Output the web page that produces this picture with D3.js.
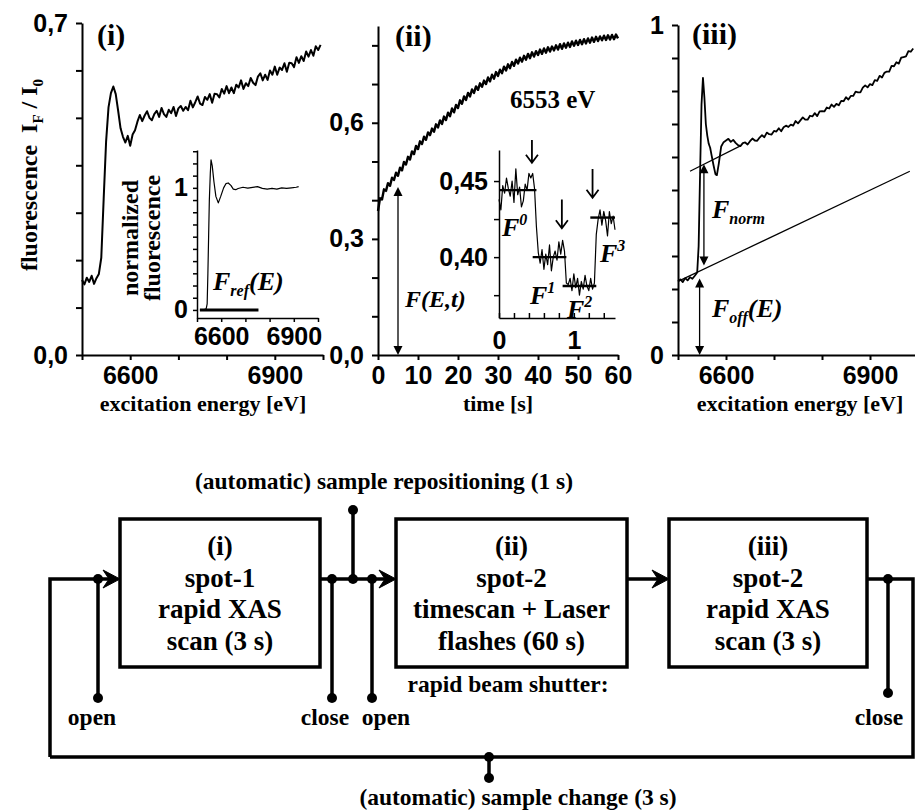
<!DOCTYPE html>
<html>
<head>
<meta charset="utf-8">
<script src="https://cdn.jsdelivr.net/npm/d3@7"></script>
<style>
    body { margin: 0; background: #fff; }
    svg { display: block; }
    .tick text { font-family: "Liberation Sans", Arial, sans-serif; font-weight: bold; font-size: 25px; fill: #000; }
    .serif { font-family: "Liberation Serif", "Times New Roman", serif; font-weight: bold; fill: #000; }
    .ital { font-style: italic; }
</style>
</head>
<body>
<script>
// ---- panel (i): rapid XAS scan on spot-1 ----
var energyI = [6500,6505,6510,6515,6520,6525,6530,6535,6540,6545,6550,6555,6560,6565,6570,6575,6580,6585,6590,6595,
    6600,6605,6610,6615,6620,6625,6630,6635,6640,6645,6650,6655,6660,6665,6670,6675,6680,6685,6690,6695,
    6700,6705,6710,6715,6720,6725,6730,6735,6740,6745,6750,6755,6760,6765,6770,6775,6780,6785,6790,6795,
    6800,6805,6810,6815,6820,6825,6830,6835,6840,6845,6850,6855,6860,6865,6870,6875,6880,6885,6890,6895,
    6900,6905,6910,6915,6920,6925,6930,6935,6940,6945,6950,6955,6960,6965,6970,6975,6980,6985,6990,6995];
var fluorI = [0.158,0.149,0.163,0.154,0.167,0.150,0.162,0.171,0.205,0.330,0.450,0.522,0.552,0.566,0.550,0.515,0.478,0.460,0.448,0.462,
    0.441,0.465,0.474,0.492,0.506,0.493,0.505,0.514,0.500,0.495,0.508,0.515,0.502,0.521,0.508,0.502,0.517,0.510,0.523,0.504,
    0.520,0.525,0.515,0.523,0.516,0.536,0.522,0.533,0.545,0.530,0.527,0.544,0.538,0.550,0.532,0.551,0.550,0.543,0.561,0.551,
    0.567,0.552,0.564,0.552,0.570,0.564,0.579,0.561,0.573,0.567,0.584,0.574,0.569,0.587,0.594,0.579,0.591,0.580,0.600,0.591,
    0.608,0.591,0.606,0.601,0.615,0.597,0.616,0.615,0.607,0.628,0.616,0.630,0.620,0.640,0.629,0.643,0.631,0.651,0.643,0.654];

// inset: normalized reference spectrum
var energyRef = [6512,6525,6538,6542,6545,6548,6551,6555,6558,6563,6570,6578,6588,6598,6610,6620,6629,6640,6650,6660,
    6670,6690,6710,6730,6750,6770,6790,6810,6830,6850,6870,6890,6910,6920];
var normRef = [0.0,0.0,0.01,0.05,0.30,0.60,0.90,1.12,1.23,1.18,1.05,0.93,0.877,0.93,1.0,1.035,1.04,1.02,0.99,0.985,
    0.995,1.005,0.998,1.004,1.01,0.996,0.99,0.995,0.99,1.0,0.995,1.0,1.005,1.01];
var refBase = [6512, 6754];

// ---- panel (ii): timescan at 6553 eV ----
var timeII = [0,0.5,1,1.5,2,2.5,3,3.5,4,4.5,5,5.5,6,6.5,7,7.5,8,8.5,9,9.5,10,10.5,11,11.5,12,12.5,13,13.5,14,14.5,
    15,15.5,16,16.5,17,17.5,18,18.5,19,19.5,20,20.5,21,21.5,22,22.5,23,23.5,24,24.5,25,25.5,26,26.5,27,27.5,28,28.5,29,29.5,
    30,30.5,31,31.5,32,32.5,33,33.5,34,34.5,35,35.5,36,36.5,37,37.5,38,38.5,39,39.5,40,40.5,41,41.5,42,42.5,43,43.5,44,44.5,
    45,45.5,46,46.5,47,47.5,48,48.5,49,49.5,50,50.5,51,51.5,52,52.5,53,53.5,54,54.5,55,55.5,56,56.5,57,57.5,58,58.5,59,59.5,60];
var fluorII = [0.372,0.405,0.402,0.428,0.424,0.444,0.437,0.458,0.452,0.471,0.463,0.484,0.477,0.499,0.492,0.512,0.505,0.526,0.519,0.540,
    0.532,0.552,0.545,0.564,0.556,0.575,0.568,0.585,0.577,0.596,0.588,0.606,0.597,0.616,0.607,0.626,0.617,0.637,0.627,0.646,
    0.638,0.658,0.649,0.668,0.659,0.677,0.668,0.686,0.677,0.694,0.685,0.702,0.693,0.709,0.700,0.717,0.707,0.724,0.714,0.731,
    0.721,0.737,0.728,0.745,0.735,0.751,0.741,0.757,0.747,0.763,0.753,0.768,0.758,0.773,0.763,0.778,0.767,0.782,0.771,0.785,
    0.775,0.789,0.778,0.792,0.781,0.795,0.784,0.797,0.787,0.800,0.789,0.803,0.791,0.805,0.794,0.807,0.796,0.810,0.799,0.812,
    0.801,0.814,0.803,0.816,0.805,0.818,0.807,0.820,0.809,0.822,0.811,0.823,0.813,0.825,0.814,0.826,0.815,0.827,0.816,0.828,0.818];

// inset: laser flash steps
var timeIn = [0,0.025,0.05,0.075,0.1,0.125,0.15,0.175,0.2,0.225,0.25,0.275,0.3,0.325,0.35,0.375,0.4,0.425,0.45,0.475,
    0.5,0.525,0.55,0.575,0.6,0.625,0.65,0.675,0.7,0.725,0.75,0.775,0.8,0.825,0.85,0.875,0.9,0.925,0.95,0.975,
    1.0,1.025,1.05,1.075,1.1,1.125,1.15,1.175,1.2,1.225,1.25,1.275,1.3,1.325,1.35,1.375,1.4,1.425,1.45,1.475,1.5,1.525,1.55];
var fluorIn = [0.438,0.431,0.447,0.442,0.452,0.445,0.440,0.450,0.436,0.458,0.441,0.446,0.433,0.437,0.448,0.444,0.455,0.452,0.455,0.445,
    0.420,0.403,0.396,0.405,0.392,0.402,0.395,0.408,0.391,0.400,0.404,0.398,0.410,0.402,0.411,0.404,0.383,0.382,0.386,0.378,
    0.389,0.380,0.386,0.375,0.384,0.379,0.388,0.381,0.378,0.386,0.379,0.383,0.415,0.425,0.431,0.421,0.430,0.424,0.414,0.430,0.422,0.427,0.418];
var levelVal = [0.444, 0.400, 0.381, 0.426];
var levelFrom = [0, 0.45, 0.85, 1.22];
var levelTo = [0.5, 0.9, 1.3, 1.55];
var flashTime = [0.44, 0.84, 1.25];
var flashTop = [0.473, 0.434, 0.454];
var flashBot = [0.462, 0.419, 0.439];

// ---- panel (iii): rapid XAS scan on spot-2 ----
var energyIII = [6500,6505,6510,6515,6520,6525,6530,6535,6540,6543,6546,6549,6552,6555,6558,6561,6564,6567,6570,6574,
    6578,6581,6585,6590,6595,6600,6605,6610,6615,6620,6625,6630,6635,6640,6645,6650,6655,6660,6665,6670,
    6675,6680,6685,6690,6695,6700,6705,6710,6715,6720,6725,6730,6735,6740,6745,6750,6755,6760,6765,6770,
    6775,6780,6785,6790,6795,6800,6805,6810,6815,6820,6825,6830,6835,6840,6845,6850,6855,6860,6865,6870,
    6875,6880,6885,6890,6895,6900,6905,6910,6915,6920,6925,6930,6935,6940,6945,6950,6955,6960,6965,6970,
    6975,6980,6985,6990];
var fluorIII = [0.223,0.229,0.221,0.233,0.226,0.236,0.231,0.240,0.250,0.330,0.550,0.760,0.840,0.780,0.700,0.665,0.640,0.628,0.605,0.575,
    0.548,0.545,0.580,0.632,0.645,0.650,0.655,0.646,0.652,0.643,0.636,0.633,0.642,0.644,0.638,0.648,0.656,0.650,0.649,0.659,
    0.666,0.660,0.674,0.669,0.668,0.679,0.677,0.687,0.678,0.690,0.695,0.691,0.698,0.695,0.709,0.702,0.711,0.720,0.713,0.713,
    0.725,0.723,0.733,0.724,0.738,0.739,0.738,0.750,0.747,0.759,0.752,0.761,0.757,0.770,0.769,0.781,0.774,0.785,0.785,0.798,
    0.796,0.796,0.810,0.817,0.811,0.821,0.818,0.833,0.831,0.846,0.841,0.855,0.859,0.859,0.876,0.875,0.887,0.883,0.901,0.903,
    0.905,0.921,0.919,0.929];
var normLineE = [6525, 6629];
var normLineF = [0.557, 0.633];
var offLineE = [6500, 6983];
var offLineF = [0.223, 0.557];

// ticks
var eTicks = [6500, 6600, 6700, 6800, 6900, 7000];
var eLabels = [6600, 6900];
var yTicksI = [0, 0.1, 0.2, 0.3, 0.4, 0.5, 0.6, 0.7];
var yLabelsI = [0, 0.7];
var refTicks = [0, 0.1, 0.2, 0.3, 0.4, 0.5, 0.6, 0.7, 0.8, 0.9, 1.0, 1.1, 1.2, 1.3];
var refLabels = [0, 1];
var tTicks = [0, 10, 20, 30, 40, 50, 60];
var yTicksII = [0, 0.1, 0.2, 0.3, 0.4, 0.5, 0.6, 0.7, 0.8];
var yLabelsII = [0, 0.3, 0.6];
var inTicksX = [0, 0.2, 0.4, 0.6, 0.8, 1.0, 1.2, 1.4];
var inLabelsX = [0, 1];
var inTicksY = [0.375, 0.4, 0.425, 0.45];
var inLabelsY = [0.4, 0.45];
var yTicksIII = [0, 0.1, 0.2, 0.3, 0.4, 0.5, 0.6, 0.7, 0.8, 0.9, 1.0];
var yLabelsIII = [0, 1];

// flow chart text
var boxLines = [
    ["(i)", "spot-1", "rapid XAS", "scan (3 s)"],
    ["(ii)", "spot-2", "timescan + Laser", "flashes (60 s)"],
    ["(iii)", "spot-2", "rapid XAS", "scan (3 s)"]
];

var svg = d3.select("body").append("svg")
    .attr("width", 915)
    .attr("height", 810);

function comma(n) {
    return function (d) { return d.toFixed(n).replace(".", ","); };
}
function only(list, f) {
    return function (d) {
        return list.some(function (v) { return Math.abs(v - d) < 1e-9; }) ? f(d) : "";
    };
}
function addAxis(gen, tx, ty, sw) {
    var g = svg.append("g")
        .attr("transform", "translate(" + tx + "," + ty + ")")
        .call(gen);
    g.select(".domain").attr("stroke-width", sw);
    g.selectAll(".tick line").attr("stroke-width", sw);
    return g;
}
function curve(xs, ys, xsc, ysc, sw) {
    var line = d3.line()
        .x(function (d) { return xsc(d[0]); })
        .y(function (d) { return ysc(d[1]); });
    return svg.append("path")
        .datum(xs.map(function (x, i) { return [x, ys[i]]; }))
        .attr("d", line)
        .attr("fill", "none")
        .attr("stroke", "#000")
        .attr("stroke-width", sw)
        .attr("stroke-linejoin", "round");
}
function dblArrow(x, yTop, yBot) {
    svg.append("line")
        .attr("x1", x).attr("x2", x)
        .attr("y1", yTop + 6).attr("y2", yBot - 6)
        .attr("stroke", "#000").attr("stroke-width", 1.3);
    svg.append("path").attr("d", "M" + x + "," + yTop + "l-4.5,9h9z");
    svg.append("path").attr("d", "M" + x + "," + yBot + "l-4.5,-9h9z");
}
function label(x, y, size, anchor) {
    return svg.append("text")
        .attr("class", "serif")
        .attr("x", x).attr("y", y)
        .attr("font-size", size)
        .attr("text-anchor", anchor || "start");
}
// italic "F" with a sub- or superscript part
function fLabel(x, y, script, up, tail) {
    var t = label(x, y, 26).attr("class", "serif ital");
    t.append("tspan").text("F");
    t.append("tspan").attr("font-size", 16).attr("dy", up ? -11 : 6).text(script);
    if (tail) t.append("tspan").attr("dy", up ? 11 : -6).text(tail);
    return t;
}

// ================= panel (i) =================
var x1 = d3.scaleLinear().domain([6500, 7000]).range([82, 323]);
var y1 = d3.scaleLinear().domain([0, 0.7]).range([355, 23]);

addAxis(d3.axisLeft(y1).tickValues(yTicksI).tickFormat(only(yLabelsI, comma(1)))
    .tickSize(6).tickPadding(8).tickSizeOuter(0), 82, 0, 2);
addAxis(d3.axisBottom(x1).tickValues(eTicks).tickFormat(only(eLabels, String))
    .tickSize(5).tickPadding(6).tickSizeOuter(0), 0, 355, 2);
curve(energyI, fluorI, x1, y1, 2);

label(97, 45, 30).text("(i)");
var yl = label(0, 0, 24, "middle").attr("transform", "translate(37,175) rotate(-90)");
yl.append("tspan").text("fluorescence\u00a0\u00a0I");
yl.append("tspan").attr("font-size", 15).attr("dy", 6).text("F");
yl.append("tspan").attr("dy", -6).text(" / I");
yl.append("tspan").attr("font-size", 15).attr("dy", 6).text("0");
label(203, 411, 22, "middle").text("excitation energy [eV]");

// inset (i)
var xr = d3.scaleLinear().domain([6500, 7000]).range([197, 318]);
var yr = d3.scaleLinear().domain([-0.066, 1.31]).range([318, 150]);
addAxis(d3.axisLeft(yr).tickValues(refTicks).tickFormat(only(refLabels, String))
    .tickSize(4).tickPadding(5).tickSizeOuter(0), 197, 0, 1.5);
addAxis(d3.axisBottom(xr).tickValues(eTicks).tickFormat(only(eLabels, String))
    .tickSize(4).tickPadding(5).tickSizeOuter(0), 0, 318, 1.5);
curve(energyRef, normRef, xr, yr, 1.2);
curve(refBase, [0, 0], xr, yr, 3);
label(0, 0, 24, "middle").attr("transform", "translate(138,238) rotate(-90)").text("normalized");
label(0, 0, 24, "middle").attr("transform", "translate(160,238) rotate(-90)").text("fluorescence");
fLabel(213, 290, "ref", false, "(E)");

// ================= panel (ii) =================
var x2 = d3.scaleLinear().domain([0, 60]).range([378, 618]);
var y2 = d3.scaleLinear().domain([0, 0.85]).range([355, 26]);
addAxis(d3.axisLeft(y2).tickValues(yTicksII).tickFormat(only(yLabelsII, comma(1)))
    .tickSize(6).tickPadding(8).tickSizeOuter(0), 378, 0, 2);
addAxis(d3.axisBottom(x2).tickValues(tTicks).tickFormat(String)
    .tickSize(5).tickPadding(6).tickSizeOuter(0), 0, 355, 2);
curve(timeII, fluorII, x2, y2, 2.4);

label(395, 46, 30).text("(ii)");
label(510, 108, 25).text("6553 eV");
label(498, 411, 22, "middle").text("time [s]");
dblArrow(x2(5), y2(0.434), y2(0));
label(405, 307, 24).attr("class", "serif ital").text("F(E,t)");

// inset (ii)
var xs = d3.scaleLinear().domain([0, 1.55]).range([499, 615]);
var ys = d3.scaleLinear().domain([0.36, 0.4704]).range([318, 150]);
addAxis(d3.axisLeft(ys).tickValues(inTicksY).tickFormat(only(inLabelsY, comma(2)))
    .tickSize(5).tickPadding(6).tickSizeOuter(0), 499, 0, 1.5);
addAxis(d3.axisBottom(xs).tickValues(inTicksX).tickFormat(only(inLabelsX, String))
    .tickSize(-5).tickPadding(13).tickSizeOuter(0), 0, 318, 1.5);
curve(timeIn, fluorIn, xs, ys, 1.2);
levelVal.forEach(function (v, i) {
    curve([levelFrom[i], levelTo[i]], [v, v], xs, ys, 2.4);
});
flashTime.forEach(function (t, i) {
    var x = xs(t), yt = ys(flashTop[i]), yb = ys(flashBot[i]);
    svg.append("path")
        .attr("d", "M" + x + "," + (yt - 6) + "V" + yb + "M" + (x - 6) + "," + (yb - 8) + "L" + x + "," + yb + "L" + (x + 6) + "," + (yb - 8))
        .attr("fill", "none").attr("stroke", "#000").attr("stroke-width", 1.8);
});
fLabel(502, 236, "0", true);
fLabel(530, 304, "1", true);
fLabel(567, 318, "2", true);
fLabel(600, 262, "3", true);

// ================= panel (iii) =================
var x3 = d3.scaleLinear().domain([6500, 7000]).range([678, 918]);
var y3 = d3.scaleLinear().domain([0, 1]).range([355, 25]);
addAxis(d3.axisLeft(y3).tickValues(yTicksIII).tickFormat(only(yLabelsIII, String))
    .tickSize(6).tickPadding(8).tickSizeOuter(0), 678, 0, 2);
addAxis(d3.axisBottom(x3).tickValues(eTicks).tickFormat(only(eLabels, String))
    .tickSize(5).tickPadding(6).tickSizeOuter(0), 0, 355, 2);
curve(energyIII, fluorIII, x3, y3, 1.8);
curve(normLineE, normLineF, x3, y3, 1.2);
curve(offLineE, offLineF, x3, y3, 1.2);

label(692, 44, 30).text("(iii)");
label(800, 411, 22, "middle").text("excitation energy [eV]");
dblArrow(x3(6554), y3(0.578), y3(0.271));
dblArrow(x3(6545), y3(0.232), y3(0));
fLabel(712, 218, "norm", false);
fLabel(712, 317, "off", false, "(E)");

// ================= flow chart =================
var flowY = 579, loopY = 757, leftX = 50, rightX = 913;
var boxes = [
    { x: 120, w: 200 },
    { x: 396, w: 231 },
    { x: 669, w: 198 }
];
var boxTop = 519, boxH = 148;
var ink = "#000", sw = 3.5;

boxes.forEach(function (b, i) {
    svg.append("rect")
        .attr("x", b.x).attr("y", boxTop)
        .attr("width", b.w).attr("height", boxH)
        .attr("fill", "none").attr("stroke", ink).attr("stroke-width", sw);
    boxLines[i].forEach(function (s, k) {
        label(b.x + b.w / 2, 555 + k * 31.7, 27, "middle").text(s);
    });
});

// connecting lines
var conn = "M" + leftX + "," + loopY + "V" + flowY + "H" + (boxes[0].x - 4) +
    "M" + (boxes[0].x + boxes[0].w) + "," + flowY + "H" + (boxes[1].x - 4) +
    "M" + (boxes[1].x + boxes[1].w) + "," + flowY + "H" + (boxes[2].x - 4) +
    "M" + (boxes[2].x + boxes[2].w) + "," + flowY + "H" + rightX + "V" + loopY + "H" + leftX;
svg.append("path").attr("d", conn)
    .attr("fill", "none").attr("stroke", ink).attr("stroke-width", sw)
    .attr("stroke-linejoin", "miter");

boxes.forEach(function (b) {
    var t = b.x;
    svg.append("path")
        .attr("d", "M" + t + "," + flowY + "L" + (t - 17) + "," + (flowY - 9) + "L" + (t - 11) + "," + flowY + "L" + (t - 17) + "," + (flowY + 9) + "Z")
        .attr("fill", ink).attr("stroke", ink).attr("stroke-width", 1);
});

// shutter / motor stems with dots
var stems = [
    { x: 98, y1: flowY, y2: 698 },
    { x: 332, y1: flowY, y2: 698 },
    { x: 353, y1: flowY, y2: 510 },
    { x: 372, y1: flowY, y2: 698 },
    { x: 888, y1: flowY, y2: 693 },
    { x: 489, y1: loopY, y2: 778 }
];
stems.forEach(function (s) {
    svg.append("line")
        .attr("x1", s.x).attr("x2", s.x).attr("y1", s.y1).attr("y2", s.y2)
        .attr("stroke", ink).attr("stroke-width", sw);
    [s.y1, s.y2].forEach(function (y) {
        svg.append("circle").attr("cx", s.x).attr("cy", y).attr("r", 5).attr("fill", ink);
    });
});

label(384, 489, 23.5, "middle").text("(automatic) sample repositioning (1 s)");
label(508, 692, 23.5, "middle").text("rapid beam shutter:");
label(92, 725, 23.5, "middle").text("open");
label(325, 725, 23.5, "middle").text("close");
label(386, 725, 23.5, "middle").text("open");
label(879, 725, 23.5, "middle").text("close");
label(518, 805, 23.5, "middle").text("(automatic) sample change (3 s)");
</script>
</body>
</html>
